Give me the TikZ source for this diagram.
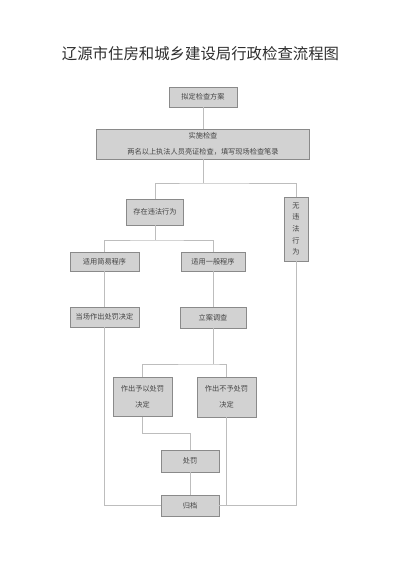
\documentclass[tikz,border=0pt]{standalone}
\usepackage{fontspec}
\setmainfont{Noto Sans CJK SC}
\definecolor{boxfill}{HTML}{D2D2D2}
\definecolor{boxdraw}{HTML}{8A8A8A}
\definecolor{linecol}{HTML}{BDBDBD}
\definecolor{txt}{HTML}{444444}
\definecolor{ttl}{HTML}{2E2E2E}
\begin{document}
\begin{tikzpicture}[x=1pt,y=-1pt,
  box/.style={draw=boxdraw,fill=boxfill,line width=0.8pt,inner sep=0pt,text=txt,
    font=\fontsize{7.2}{16.5}\selectfont,align=center},
  conn/.style={draw=linecol,line width=0.8pt}]
\useasboundingbox (0,0) rectangle (400,584);
\node[text=ttl,font=\fontsize{15.4}{18}\selectfont] (title) at (200.5,54) {辽源市住房和城乡建设局行政检查流程图};
\node[box,minimum width=68pt,minimum height=20pt] (b1) at (203,97) {拟定检查方案};
\node[box,minimum width=213pt,minimum height=30pt] (b2) at (203,144) {实施检查\\两名以上执法人员亮证检查，填写现场检查笔录};
\node[box,minimum width=57pt,minimum height=26pt] (b3) at (155,212) {存在违法行为};
\node[box,minimum width=24pt,minimum height=64pt,font=\fontsize{7.2}{11.7}\selectfont] (b4) at (296,229) {无\\违\\法\\行\\为};
\node[box,minimum width=69pt,minimum height=19pt] (b5) at (104.5,261.5) {适用简易程序};
\node[box,minimum width=64pt,minimum height=19pt] (b6) at (213,261.5) {适用一般程序};
\node[box,minimum width=69pt,minimum height=20pt] (b7) at (104.5,317) {当场作出处罚决定};
\node[box,minimum width=66pt,minimum height=21pt] (b8) at (213,317.5) {立案调查};
\node[box,minimum width=59pt,minimum height=39pt] (b9) at (142.5,397) {作出予以处罚\\决定};
\node[box,minimum width=59pt,minimum height=40pt] (b10) at (226.5,397) {作出不予处罚\\决定};
\node[box,minimum width=58pt,minimum height=22pt] (b11) at (190,461) {处罚};
\node[box,minimum width=58pt,minimum height=21pt] (b12) at (190,505.5) {归档};
\coordinate (j1) at (203,183);
\coordinate (j2) at (155,240);
\coordinate (j3) at (213,364);
\coordinate (j4) at (190,433);
\draw[conn] (b1.south) -- (b2.north);
\draw[conn] (b2.south) -- (j1);
\draw[conn] (b3.north) |- (j1) -| (b4.north);
\draw[conn] (b3.south) -- (j2);
\draw[conn] (b5.north) |- (j2) -| (b6.north);
\draw[conn] (b5.south) -- (b7.north);
\draw[conn] (b6.south) -- (b8.north);
\draw[conn] (b8.south) -- (j3);
\draw[conn] (b9.north) |- (j3) -| (b10.north);
\draw[conn] (b9.south) |- (j4) -- (b11.north);
\draw[conn] (b11.south) -- (b12.north);
\draw[conn] (b7.south) |- (b12.west);
\draw[conn] (b4.south) |- (b12.east);
\draw[conn] (b10.south) -- (b10.south |- b12.east);
\end{tikzpicture}
\end{document}
